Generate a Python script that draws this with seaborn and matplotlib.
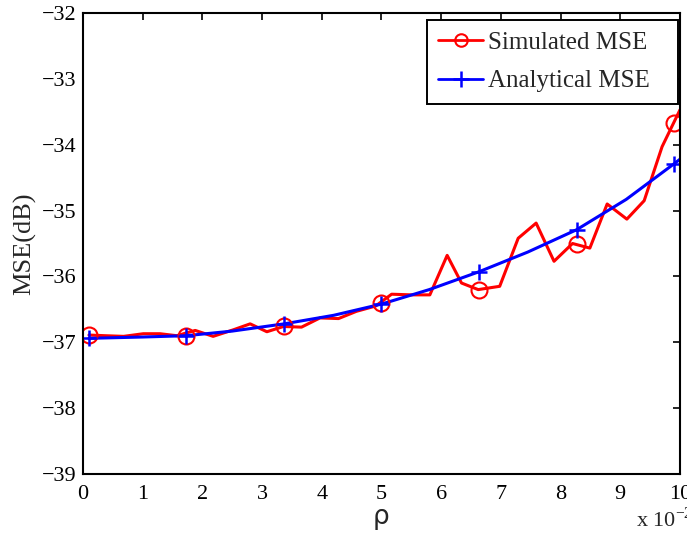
import matplotlib
matplotlib.use("Agg")
import matplotlib.pyplot as plt
from matplotlib.lines import Line2D
import seaborn as sns

# simulated MSE (red)
sim_x = [0.1, 0.37, 0.68, 1.01, 1.29, 1.57, 1.88, 2.18, 2.52, 2.80, 3.08, 3.36, 3.66,
         3.97, 4.28, 4.58, 4.90, 5.17, 5.50, 5.81, 6.10, 6.34, 6.62, 6.98, 7.29, 7.59,
         7.89, 8.20, 8.49, 8.78, 9.11, 9.40, 9.70, 10.0]
sim_y = [-36.89, -36.90, -36.91, -36.87, -36.87, -36.90, -36.82, -36.91, -36.81, -36.72,
         -36.84, -36.76, -36.77, -36.63, -36.64, -36.53, -36.45, -36.27, -36.28, -36.28,
         -35.68, -36.10, -36.20, -36.15, -35.42, -35.19, -35.77, -35.50, -35.57, -34.90,
         -35.13, -34.85, -34.03, -33.47]
sim_mark_x = [0.1, 1.73, 3.37, 5.0, 6.63, 8.27, 9.9]
sim_mark_y = [-36.89, -36.91, -36.76, -36.40, -36.20, -35.51, -33.67]

# analytical MSE (blue)
ana_x = [0.1, 1.0, 1.73, 2.5, 3.37, 4.2, 5.0, 5.8, 6.63, 7.45, 8.27, 9.1, 9.9, 10.2]
ana_y = [-36.94, -36.92, -36.90, -36.83, -36.72, -36.59, -36.42, -36.20, -35.93,
         -35.63, -35.29, -34.83, -34.29, -34.08]
ana_mark_x = [0.1, 1.73, 3.37, 5.0, 6.63, 8.27, 9.9]
ana_mark_y = [-36.94, -36.90, -36.72, -36.42, -35.93, -35.29, -34.29]

sns.set_style("white")
plt.rcParams["font.family"] = ["Liberation Serif", "DejaVu Serif"]
plt.rcParams["font.size"] = 16
plt.rcParams["axes.unicode_minus"] = True
plt.rcParams["xtick.direction"] = "in"
plt.rcParams["ytick.direction"] = "in"

fig = plt.figure(figsize=(6.87, 5.33), dpi=100)
ax = fig.add_axes([0.1208, 0.1107, 0.8690, 0.8649])

sns.lineplot(x=sim_x, y=sim_y, color="red", linewidth=2.2, sort=False, estimator=None, ax=ax)
sns.lineplot(x=ana_x, y=ana_y, color="blue", linewidth=2.2, sort=False, estimator=None, ax=ax)
ax.plot(sim_mark_x, sim_mark_y, linestyle="none", marker="o", markersize=11.5,
        markerfacecolor="none", markeredgecolor="red", markeredgewidth=1.5)
ax.plot(ana_mark_x, ana_mark_y, linestyle="none", marker="+", markersize=12,
        markeredgecolor="blue", markeredgewidth=1.8)

ax.set_xlim(0, 10)
ax.set_ylim(-39, -32)
ax.set_xticks(range(0, 11))
ax.set_yticks(range(-39, -31))
ax.tick_params(top=True, right=True, length=5, width=1.2, colors="black", labelsize=16)
ax.tick_params(axis="x", pad=8)
ax.tick_params(axis="y", pad=5)
for s in ax.spines.values():
    s.set_color("black")
    s.set_linewidth(1.5)

ax.set_ylabel("MSE(dB)", fontsize=19, labelpad=4)
ax.set_xlabel("ρ", fontsize=19, family="DejaVu Sans", labelpad=0)
fig.text(636 / 687, 0.002, "x 10$^{\\mathregular{-2}}$", ha="left", va="bottom", fontsize=16)

handles = [
    Line2D([], [], color="red", linewidth=2, marker="o", markersize=9,
           markerfacecolor="none", markeredgewidth=1.5),
    Line2D([], [], color="blue", linewidth=2, marker="+", markersize=11, markeredgewidth=1.8),
]
leg = ax.legend(handles, ["Simulated MSE", "Analytical MSE"], loc="upper left",
                bbox_to_anchor=(0.576, 0.805, 0.421, 0.18), mode="expand", fancybox=False,
                framealpha=1, edgecolor="black", handlelength=1.8, handletextpad=0.2,
                borderpad=0.45, labelspacing=0.65, borderaxespad=0, fontsize=18)
leg.get_frame().set_linewidth(1.4)

fig.savefig("out.png", dpi=100)
